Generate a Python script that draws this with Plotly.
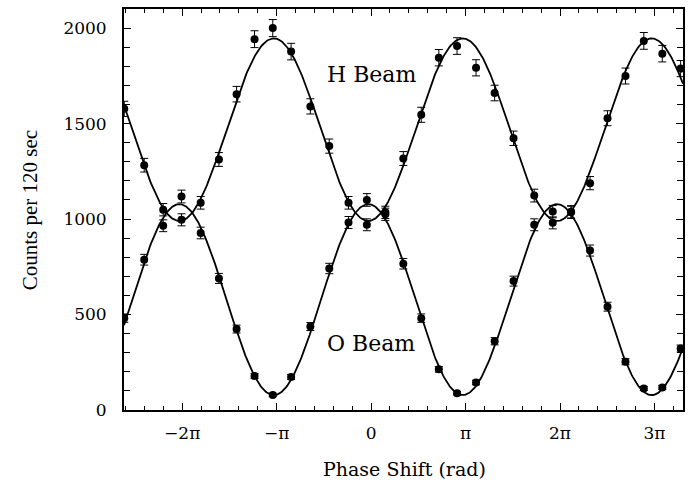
import numpy as np
import plotly.graph_objects as go

# Phase shift of each measurement, in units of pi
PHASE_PI = [-2.613, -2.402, -2.201, -2.007, -1.804, -1.611, -1.424, -1.234,
            -1.041, -0.847, -0.643, -0.443, -0.239, -0.045, 0.151, 0.341,
            0.531, 0.717, 0.910, 1.111, 1.308, 1.508, 1.727, 1.923,
            2.117, 2.318, 2.503, 2.693, 2.887, 3.083, 3.277]

# Counts per 120 s in the two exit beams
H_COUNTS = [1577, 1282, 1049, 996, 1085, 1312, 1654, 1942,
            2000, 1877, 1590, 1382, 1085, 970, 1035, 1317,
            1546, 1845, 1906, 1792, 1660, 1423, 1123, 980,
            1038, 1188, 1528, 1749, 1933, 1866, 1788]
O_COUNTS = [481, 787, 965, 1118, 927, 689, 424, 178,
            79, 173, 437, 741, 982, 1100, 1025, 766,
            481, 213, 88, 144, 360, 675, 970, 1039,
            1035, 835, 541, 253, 113, 118, 322]

# Sinusoidal fit parameters (counts, phase offset in units of pi)
H_MEAN, H_AMP = 1468, 478
O_MEAN, O_AMP = 578, 500
FIT_OFFSET_PI = -0.03

TICK_VALS = [-2, -1, 0, 1, 2, 3]
TICK_TEXT = ["\u22122\u03c0", "\u2212\u03c0", "0", "\u03c0", "2\u03c0", "3\u03c0"]

X_RANGE = [-2.616, 3.302]
Y_RANGE = [0, 2100]

h = np.array(H_COUNTS, dtype=float)
o = np.array(O_COUNTS, dtype=float)

phi = np.linspace(X_RANGE[0], X_RANGE[1], 600)
h_fit = H_MEAN - H_AMP * np.cos(np.pi * (phi - FIT_OFFSET_PI))
o_fit = O_MEAN + O_AMP * np.cos(np.pi * (phi - FIT_OFFSET_PI))

fig = go.Figure()
for fit in (h_fit, o_fit):
    fig.add_trace(go.Scatter(x=phi, y=fit, mode="lines",
                             line=dict(color="black", width=1.8),
                             hoverinfo="skip", showlegend=False))
for counts in (h, o):
    fig.add_trace(go.Scatter(
        x=PHASE_PI, y=counts, mode="markers",
        marker=dict(color="black", size=8, symbol="circle"),
        error_y=dict(type="data", array=np.sqrt(counts), color="black",
                     thickness=1, width=4),
        showlegend=False))

serif_wide = "DejaVu Serif"
fig.add_annotation(x=0.0, y=1757, text="H Beam", showarrow=False,
                   font=dict(family=serif_wide, size=22, color="black"),
                   xanchor="center", yanchor="middle")
fig.add_annotation(x=0.0, y=348, text="O Beam", showarrow=False,
                   font=dict(family=serif_wide, size=22, color="black"),
                   xanchor="center", yanchor="middle")
fig.add_annotation(xref="paper", yref="paper", x=(30 - 124) / 561, y=0.499,
                   text="Counts per 120 sec", textangle=-90, showarrow=False,
                   font=dict(family="Liberation Serif", size=21, color="black"),
                   xanchor="center", yanchor="middle")
fig.add_annotation(xref="paper", yref="paper", x=0.501, y=-0.148,
                   text="Phase Shift (rad)", showarrow=False,
                   font=dict(family=serif_wide, size=19, color="black"),
                   xanchor="center", yanchor="middle")

fig.update_xaxes(range=X_RANGE, tickmode="array", tickvals=TICK_VALS,
                 ticktext=TICK_TEXT, ticks="inside", ticklen=7, tickwidth=1.3,
                 tickcolor="black", showline=True, linecolor="black",
                 linewidth=1.8, mirror="allticks", showgrid=False,
                 zeroline=False, ticklabelstandoff=7,
                 tickfont=dict(family=serif_wide, size=17, color="black"),
                 minor=dict(tick0=0, dtick=0.2, ticks="inside", ticklen=4,
                            tickwidth=1.2, tickcolor="black", showgrid=False))
fig.update_yaxes(range=Y_RANGE, tickmode="array",
                 tickvals=[0, 500, 1000, 1500, 2000], ticks="inside",
                 ticklen=7, tickwidth=1.3, tickcolor="black", showline=True,
                 linecolor="black", linewidth=1.8, mirror="allticks",
                 showgrid=False, zeroline=False, ticklabelstandoff=12,
                 tickfont=dict(family=serif_wide, size=17, color="black"),
                 minor=dict(tick0=0, dtick=100, ticks="inside", ticklen=6,
                            tickwidth=1.2, tickcolor="black", showgrid=False))

fig.update_layout(width=690, height=482, paper_bgcolor="white",
                  plot_bgcolor="white",
                  margin=dict(l=124, r=5, t=9, b=72), showlegend=False)

fig.write_html("out.html")
